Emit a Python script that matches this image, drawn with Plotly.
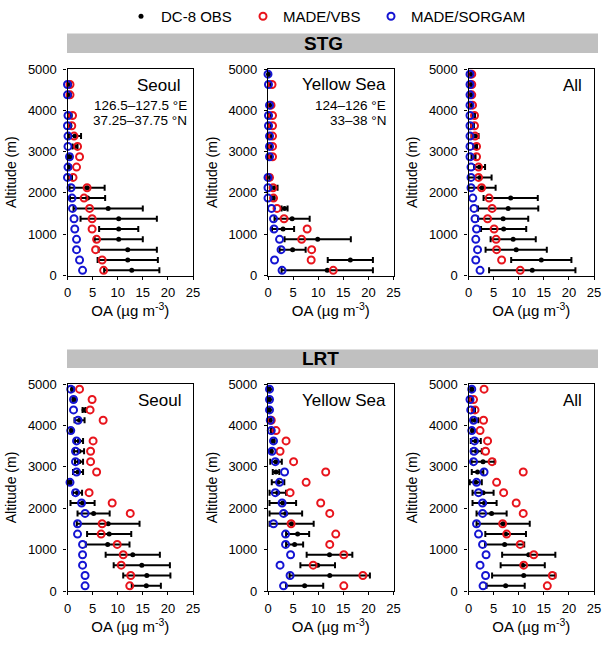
import plotly.graph_objects as go

W, H = 610, 646

# ---------------- data ----------------
altitude = [125, 375, 625, 875, 1125, 1375, 1625, 1875, 2125, 2375,
            2625, 2875, 3125, 3375, 3625, 3875, 4125, 4375, 4625, 4875]

# STG - Seoul
stg_seoul_obs = [12.8, 12.0, 12.0, 10.2, 10.2, 10.2, 8.1, 4.0, 3.9, 0.6,
                 0.4, 0.6, 1.5, 1.5, 0.5, 0.5, None, 0.4, 0.4, None]
stg_seoul_sd = [5.5, 6.0, 5.8, 4.8, 3.9, 7.6, 6.9, 3.5, 3.5, 0.3,
                0.2, 0.3, 0.5, 1.2, 0.2, 0.3, None, 0.2, 0.2, None]
stg_seoul_vbs = [7.2, 6.9, 5.6, 5.8, 4.9, 4.9, 4.4, 3.3, 3.9, 1.1,
                 1.8, 2.4, 2.0, 1.3, 0.85, 1.0, None, 0.5, 0.5, None]
stg_seoul_sorgam = [3.0, 2.4, 1.8, 1.8, 1.45, 1.3, 1.0, 0.9, 0.7, 0.0,
                    0.1, 0.4, 0.1, 0.1, 0.0, 0.1, None, 0.0, 0.0, None]

# STG - Yellow Sea
stg_ys_obs = [11.8, 16.4, 4.9, 9.9, 3.0, 4.8, 3.3, 1.0, 1.3, 0.5,
              None, 0.4, 0.4, 0.4, 0.4, 0.4, 0.3, None, 0.3, 0.1]
stg_ys_sd = [9.1, 4.5, 2.6, 6.6, 2.2, 3.5, 0.6, 0.3, 0.6, 0.2,
             None, 0.2, 0.2, 0.2, 0.2, 0.2, 0.2, None, 0.2, 0.1]
stg_ys_vbs = [13.0, 8.6, 8.7, 6.7, 7.8, 3.2, 1.8, 1.1, 1.0, 0.3,
              None, 0.9, 0.9, 0.9, 0.9, 0.9, 0.6, None, 0.8, None]
stg_ys_sorgam = [2.8, 1.3, 2.6, 2.3, 1.2, 1.1, 0.7, 0.0, 0.0, 0.0,
                 None, 0.3, 0.3, 0.3, 0.1, 0.1, 0.3, None, 0.1, 0.0]

# STG - All
stg_all_obs = [12.7, 14.5, 9.5, 8.9, 7.0, 6.9, 7.9, 8.4, 2.7, 2.3,
               2.2, 1.0, 1.3, 1.3, 0.8, 1.0, 0.5, 0.5, 0.4, 0.4]
stg_all_sd = [8.6, 6.0, 6.1, 4.5, 4.5, 5.0, 6.0, 5.4, 2.7, 2.3,
              1.1, 0.4, 0.4, 0.7, 0.3, 0.3, 0.2, 0.2, 0.2, 0.2]
stg_all_vbs = [10.3, 6.6, 5.6, 5.5, 5.1, 3.8, 4.7, 4.1, 2.6, 2.0,
               2.0, 1.6, 1.6, 1.3, 1.2, 1.2, 0.8, 0.65, 0.65, 0.65]
stg_all_sorgam = [2.3, 1.45, 1.8, 1.45, 1.6, 1.3, 1.1, 0.85, 0.5, 0.5,
                  0.5, 0.3, 0.3, 0.3, 0.3, 0.3, 0.3, 0.3, 0.3, 0.3]

# LRT - Seoul
lrt_seoul_obs = [15.7, 15.8, 14.8, 13.0, 8.0, 8.3, 8.1, 5.2, 3.0, 2.0,
                 0.5, 2.1, 2.3, 2.3, 2.3, 0.8, 2.4, 3.3, 1.3, 1.0]
lrt_seoul_sd = [2.9, 4.7, 5.6, 5.4, 4.35, 4.4, 6.25, 3.2, 2.4, 0.9,
                0.2, 1.0, 0.8, 1.0, 0.8, 0.2, 1.0, 0.3, 0.3, 0.2]
lrt_seoul_vbs = [12.4, 12.6, 10.7, 11.1, 9.9, 6.7, 6.9, 12.5, 8.9, 4.3,
                 None, 5.8, 4.6, 4.6, 5.1, None, 7.1, 4.5, 4.9, 2.4]
lrt_seoul_sorgam = [3.5, 3.5, 3.0, 3.0, 3.0, 2.0, 2.0, 3.5, 2.8, 1.6,
                    0.5, 1.8, 1.6, 1.6, 1.8, 0.65, 2.1, 1.2, 1.2, 0.65]

# LRT - Yellow Sea
lrt_ys_obs = [7.3, 12.3, 9.9, 12.25, 5.3, 5.9, 4.7, 3.55, 2.95, 1.95,
              2.0, 1.6, 1.6, 0.65, 1.0, 0.8, 0.45, 0.3, 0.3, 0.3]
lrt_ys_sd = [3.7, 8.0, 3.45, 4.55, 1.7, 2.3, 4.4, 3.25, 2.65, 1.65,
             1.25, 0.65, 1.15, 0.2, 0.3, 0.2, 0.1, 0.1, 0.1, 0.1]
lrt_ys_vbs = [15.1, 18.9, 9.0, 15.1, 12.3, 13.5, 4.6, 12.3, 10.5, 4.4,
              7.6, 11.5, 5.1, 2.4, 3.6, 1.6, 0.65, None, None, None]
lrt_ys_sorgam = [3.1, 4.4, 2.4, 4.5, 3.5, 3.5, 1.1, 3.1, 2.8, 1.45,
                 2.3, 3.3, 1.45, 0.8, 1.1, 0.65, 0.45, 0.3, 0.3, 0.3]

# LRT - All
lrt_all_obs = [7.4, 11.0, 10.8, 12.0, 7.2, 7.4, 6.9, 4.6, 3.2, 2.9,
               1.45, 1.8, 2.9, 1.6, 1.45, 0.8, 1.3, 1.0, 0.5, 0.65]
lrt_all_sd = [3.8, 6.3, 4.4, 5.3, 3.9, 4.05, 5.3, 3.0, 2.4, 2.1,
              1.2, 1.15, 2.3, 1.05, 1.0, 0.2, 0.65, 0.3, 0.2, 0.2]
lrt_all_vbs = [15.7, 16.7, 11.0, 13.0, 10.3, 7.6, 6.8, 10.9, 9.5, 7.0,
               5.6, 10.9, 4.7, 3.4, 3.8, 2.3, 3.0, 1.3, 1.0, 3.1]
lrt_all_sorgam = [2.9, 3.4, 2.3, 3.5, 2.8, 2.0, 1.6, 2.8, 2.8, 2.0,
                  1.6, 3.1, 1.0, 1.1, 1.2, 0.65, 1.0, 0.45, 0.3, 0.65]

panels = [
    (stg_seoul_obs, stg_seoul_sd, stg_seoul_vbs, stg_seoul_sorgam),
    (stg_ys_obs, stg_ys_sd, stg_ys_vbs, stg_ys_sorgam),
    (stg_all_obs, stg_all_sd, stg_all_vbs, stg_all_sorgam),
    (lrt_seoul_obs, lrt_seoul_sd, lrt_seoul_vbs, lrt_seoul_sorgam),
    (lrt_ys_obs, lrt_ys_sd, lrt_ys_vbs, lrt_ys_sorgam),
    (lrt_all_obs, lrt_all_sd, lrt_all_vbs, lrt_all_sorgam),
]

legend_names = ["DC-8 OBS", "MADE/VBS", "MADE/SORGAM"]
x_ticks = [0, 5, 10, 15, 20, 25]
y_ticks = [0, 1000, 2000, 3000, 4000, 5000]

# ---------------- layout helpers ----------------
FONT = "Liberation Sans, Arial, sans-serif"
RED = "#e8141c"
BLUE = "#1414d2"

def px_x(p):
    return p / W

def px_y(p):
    return 1 - p / H

col_px = [(67.5, 193.0), (268.0, 393.5), (468.5, 594.0)]
row_px = [(69.0, 275.5), (384.0, 591.0)]

fig = go.Figure()

for i, (obs, sd, vbs, sorg) in enumerate(panels):
    n = i + 1
    xa = "x" if n == 1 else f"x{n}"
    ya = "y" if n == 1 else f"y{n}"
    show = (i == 0)
    fig.add_trace(go.Scatter(
        x=obs, y=altitude, xaxis=xa, yaxis=ya, mode="markers",
        name=legend_names[0], showlegend=show, legend="legend", cliponaxis=False,
        marker=dict(symbol="circle", size=5, color="black"),
        error_x=dict(type="data", array=sd, color="black", thickness=2, width=3),
    ))
    fig.add_trace(go.Scatter(
        x=vbs, y=altitude, xaxis=xa, yaxis=ya, mode="markers",
        name=legend_names[1], showlegend=show, legend="legend2", cliponaxis=False,
        marker=dict(symbol="circle-open", size=7, color=RED, line=dict(width=2, color=RED)),
    ))
    fig.add_trace(go.Scatter(
        x=sorg, y=altitude, xaxis=xa, yaxis=ya, mode="markers",
        name=legend_names[2], showlegend=show, legend="legend3", cliponaxis=False,
        marker=dict(symbol="circle-open", size=7, color=BLUE, line=dict(width=2, color=BLUE)),
    ))

    r, c = divmod(i, 3)
    x0, x1 = col_px[c]
    y0, y1 = row_px[r]
    xkey = "xaxis" if n == 1 else f"xaxis{n}"
    ykey = "yaxis" if n == 1 else f"yaxis{n}"
    fig.update_layout(**{
        xkey: dict(
            domain=[px_x(x0), px_x(x1)], anchor=ya, range=[0, 25], automargin=False,
            tickvals=x_ticks, ticks="outside", ticklen=3, tickcolor="black",
            ticklabelstandoff=2,
            showline=True, linecolor="black", linewidth=1.2, mirror=True,
            showgrid=False, zeroline=False,
            tickfont=dict(size=13, color="black"),
            title=dict(text="OA (µg m<sup>-3</sup>)", font=dict(size=15, color="black"), standoff=4),
        ),
        ykey: dict(
            domain=[px_y(y1), px_y(y0)], anchor=xa, range=[0, 5000], automargin=False,
            tickvals=y_ticks, ticks="outside", ticklen=3, tickcolor="black",
            ticklabelstandoff=4,
            showline=True, linecolor="black", linewidth=1.2, mirror=True,
            showgrid=False, zeroline=False,
            tickfont=dict(size=13, color="black"),
            title=dict(text="Altitude (m)", font=dict(size=14, color="black"), standoff=7),
        ),
    })

shapes = []
annotations = []
for (label, top, bot, cx) in [("STG", 33.5, 53.0, 324), ("LRT", 349.5, 368.0, 320)]:
    shapes.append(dict(type="rect", xref="paper", yref="paper",
                       x0=px_x(67), x1=px_x(598), y0=px_y(bot), y1=px_y(top),
                       fillcolor="#c0c0c0", line=dict(width=0), layer="below"))
    annotations.append(dict(text=f"<b>{label}</b>", xref="paper", yref="paper",
                            x=px_x(cx), y=px_y((top + bot) / 2), xanchor="center", yanchor="middle",
                            showarrow=False, font=dict(size=19, color="black", family=FONT)))

texts = [
    ("Seoul", 182, 86, 17), ("126.5–127.5 °E", 189, 105, 13.5), ("37.25–37.75 °N", 189, 120, 13.5),
    ("Yellow Sea", 388, 85, 17), ("124–126 °E", 388, 105, 13.5), ("33–38 °N", 388, 120, 13.5),
    ("All", 584, 86, 17),
    ("Seoul", 183, 400, 17), ("Yellow Sea", 388, 400, 17), ("All", 584, 400, 17),
]
for t, xr, yc, fs in texts:
    annotations.append(dict(text=t, xref="paper", yref="paper", x=px_x(xr), y=px_y(yc),
                            xanchor="right", yanchor="middle", showarrow=False,
                            font=dict(size=fs, color="black", family=FONT)))

def legend_at(xpx):
    return dict(orientation="h", x=px_x(xpx), y=px_y(0), xanchor="left", yanchor="top",
                font=dict(size=15, color="black"), itemwidth=30,
                bgcolor="rgba(0,0,0,0)", borderwidth=0)

fig.update_layout(
    width=W, height=H,
    margin=dict(l=0, r=0, t=0, b=0, pad=0, autoexpand=False),
    paper_bgcolor="white", plot_bgcolor="white",
    font=dict(family=FONT, color="black"),
    shapes=shapes, annotations=annotations,
    showlegend=True,
    legend=legend_at(121),
    legend2=legend_at(243),
    legend3=legend_at(371),
)

fig.write_html("out.html",
               config={"displayModeBar": False},
               post_script="document.body.style.margin='0';document.body.style.overflow='hidden';")
